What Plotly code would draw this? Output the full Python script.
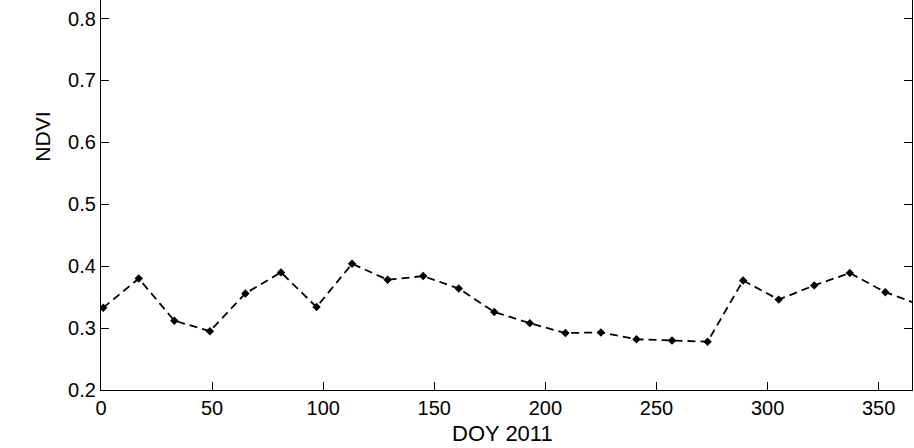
import plotly.graph_objects as go

doy = [1, 17, 33, 49, 65, 81, 97, 113, 129, 145, 161, 177, 193, 209, 225,
       241, 257, 273, 289, 305, 321, 337, 353, 369]
ndvi = [0.333, 0.380, 0.312, 0.295, 0.356, 0.390, 0.334, 0.404, 0.378, 0.384,
        0.364, 0.326, 0.308, 0.292, 0.293, 0.282, 0.280, 0.278, 0.377, 0.346,
        0.369, 0.389, 0.358, 0.337]
x_ticks = [0, 50, 100, 150, 200, 250, 300, 350]
y_ticks = [0.2, 0.3, 0.4, 0.5, 0.6, 0.7, 0.8]
x_title = "DOY 2011"
y_title = "NDVI"

font = "Liberation Sans, Arial, Helvetica, sans-serif"

fig = go.Figure()
fig.add_trace(go.Scatter(
    x=doy, y=ndvi, mode="lines+markers",
    line=dict(color="black", width=1.8, dash="8px,5px"),
    marker=dict(symbol="diamond", size=6.5, color="black"),
    showlegend=False,
))

fig.update_layout(
    width=914, height=448,
    margin=dict(l=101, r=2, t=0, b=58, pad=0),
    paper_bgcolor="white", plot_bgcolor="white",
    font=dict(family=font, size=20, color="black"),
    xaxis=dict(range=[0, 365], tickvals=x_ticks, ticktext=[str(v) for v in x_ticks],
               ticks="inside", ticklen=8, tickwidth=1, tickcolor="black",
               tickfont=dict(size=20),
               showline=True, linecolor="black", linewidth=1.3,
               showgrid=False, zeroline=False, mirror=False),
    yaxis=dict(range=[0.2, 0.83], tickvals=y_ticks, ticktext=[f"{v:.1f}" for v in y_ticks],
               ticks="inside", ticklen=8, tickwidth=1, tickcolor="black",
               tickfont=dict(size=20),
               showline=True, linecolor="black", linewidth=1.3,
               showgrid=False, zeroline=False, mirror="ticks"),
    annotations=[
        dict(text=x_title, xref="paper", yref="paper", x=0.4953, y=-0.111,
             showarrow=False, xanchor="center", yanchor="middle",
             font=dict(family=font, size=22)),
        dict(text=y_title, xref="paper", yref="paper", x=-0.0715, y=0.6496,
             showarrow=False, xanchor="center", yanchor="middle", textangle=-90,
             font=dict(family=font, size=21)),
    ],
)

fig.write_html(
    "out.html",
    config={"displayModeBar": False},
    post_script="document.body.style.margin='0';document.body.style.overflow='hidden';",
)
